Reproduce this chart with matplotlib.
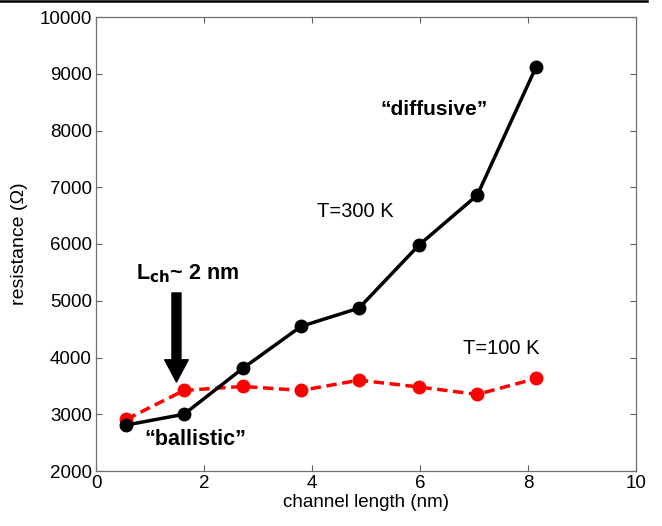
import matplotlib
matplotlib.use("Agg")
import matplotlib.pyplot as plt
from matplotlib.lines import Line2D
from matplotlib.patches import FancyArrowPatch

plt.rcParams['font.family'] = ['Liberation Sans', 'DejaVu Sans']

# channel length (nm) and resistance (Ohm)
lengths = [0.56, 1.63, 2.72, 3.80, 4.87, 5.98, 7.06, 8.15]
r300 = [2810, 3000, 3810, 4550, 4870, 5980, 6860, 9120]
r100 = [2910, 3420, 3490, 3420, 3600, 3480, 3350, 3630]

xticks = [0, 2, 4, 6, 8, 10]
yticks = [2000, 3000, 4000, 5000, 6000, 7000, 8000, 9000, 10000]

fig = plt.figure(figsize=(6.62, 5.26), dpi=100)
ax = fig.add_axes([96 / 662, 1 - 471 / 526, 540 / 662, 454 / 526])

ax.plot(lengths, r300, '-o', color='black', lw=2.5, ms=9, zorder=3)
ax.plot(lengths, r100, '--o', color='red', lw=2.5, ms=9, dashes=(3, 1.6), zorder=2)

ax.set_xlim(0, 10)
ax.set_ylim(2000, 10000)
ax.set_xticks(xticks)
ax.set_yticks(yticks)
ax.tick_params(direction='in', top=True, right=True, length=4, width=0.8,
               color='#606060', labelsize=13.5, pad=3)
for s in ax.spines.values():
    s.set_color('#707070')
    s.set_linewidth(0.9)

ax.set_xlabel('channel length (nm)', fontsize=13.5, labelpad=1)
ax.set_ylabel('resistance (\u03a9)', fontsize=14, labelpad=8)

ax.text(6.26, 8273, '\u201cdiffusive\u201d', fontsize=15, fontweight='bold', ha='center', va='baseline')
ax.text(4.80, 6476, 'T=300 K', fontsize=14.5, ha='center', va='baseline')
ax.text(7.50, 4062, 'T=100 K', fontsize=14.5, ha='center', va='baseline')
ax.text(1.83, 2458, '\u201cballistic\u201d', fontsize=15.5, fontweight='bold', ha='center', va='baseline')
ax.text(1.70, 5383, r'L$_{\mathbf{ch}}$~ 2 nm', fontsize=15.5, fontweight='bold', ha='center', va='baseline')

arrow = FancyArrowPatch((1.49, 5137), (1.49, 3568), mutation_scale=1, shrinkA=0, shrinkB=0,
                        arrowstyle='simple,head_width=17,head_length=16,tail_width=6.5',
                        color='black', zorder=4)
ax.add_patch(arrow)

fig.add_artist(Line2D([0, 647 / 662], [1 - 1 / 526, 1 - 1 / 526], color='black', lw=1.8,
                      transform=fig.transFigure))

fig.savefig('out.png', dpi=100)
